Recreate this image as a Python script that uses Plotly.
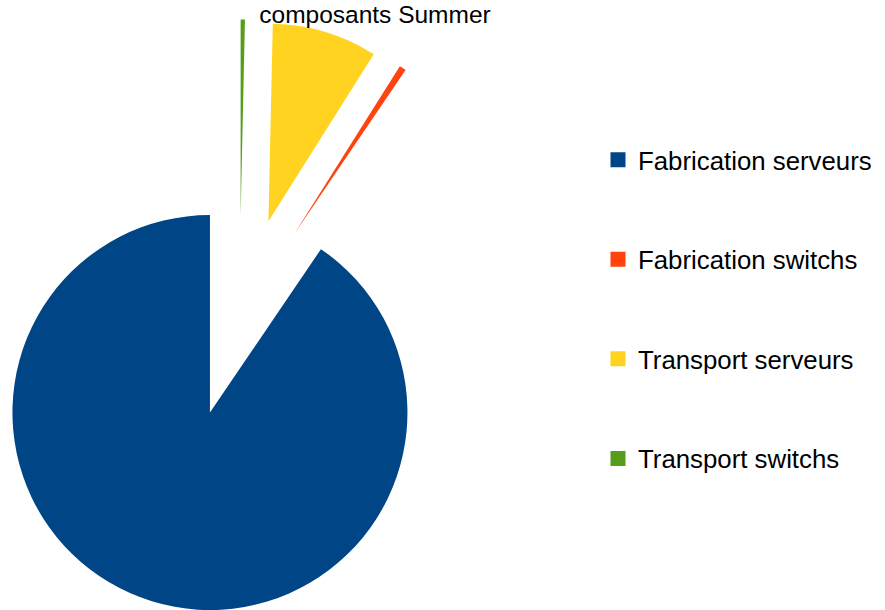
import math
import plotly.graph_objects as go

# ---- data ----
labels = ["Fabrication serveurs", "Fabrication switchs", "Transport serveurs", "Transport switchs"]
values = [90.5, 0.55, 8.6, 0.35]
colors = ["#004586", "#ff420e", "#ffd320", "#579d1c"]
title_text = "composants Summer"

# ---- layout geometry (pixels) ----
W, H = 885, 610
R = 197.5                 # pie radius
O = (239.5, 317.5)        # common centre before slices are pulled apart
PULL = 100.5              # distance each slice is pulled away (px)

# pie is drawn clockwise from 12 o'clock in reverse legend order
p_labels = labels[::-1]
p_values = values[::-1]
p_colors = colors[::-1]

fig = go.Figure()

total = sum(p_values)
cum = 0.0
for k, val in enumerate(p_values):
    start = cum
    cum += val
    psi = math.radians((start + cum) / 2 / total * 360.0)   # clockwise from 12 o'clock
    cx = O[0] + PULL * math.sin(psi)
    cy = O[1] - PULL * math.cos(psi)
    if cy + R > H:
        cy = H - R
    dom_x = [(cx - R) / W, (cx + R) / W]
    dom_y = [(H - (cy + R)) / H, (H - (cy - R)) / H]
    dom_x = [min(max(v, 0.0), 1.0) for v in dom_x]
    dom_y = [min(max(v, 0.0), 1.0) for v in dom_y]
    slice_colors = [c if i == k else "rgba(0,0,0,0)" for i, c in enumerate(p_colors)]
    fig.add_trace(go.Pie(
        labels=p_labels, values=p_values, sort=False, direction="clockwise",
        rotation=0, textinfo="none", showlegend=False,
        marker=dict(colors=slice_colors, line=dict(width=0)),
        domain=dict(x=dom_x, y=dom_y), hoverinfo="label+percent",
    ))

# legend entries
for lab, col in zip(labels, colors):
    fig.add_trace(go.Scatter(
        x=[None], y=[None], mode="markers", name=lab, legendgroup=lab,
        marker=dict(symbol="square", size=15, color=col, line=dict(width=0)),
    ))

fig.update_layout(
    width=W, height=H,
    margin=dict(l=0, r=0, t=0, b=0),
    paper_bgcolor="white", plot_bgcolor="white",
    font=dict(family="Liberation Sans, Arial, sans-serif", color="#000000", size=24),
    title=dict(text=title_text, x=375 / W, xanchor="center", y=1 - 6 / H, yanchor="top",
               font=dict(size=24.5, color="#000000")),
    xaxis=dict(visible=False), yaxis=dict(visible=False),
    legend=dict(x=598 / W, xanchor="left", y=1 - 136.5 / H, yanchor="top",
                font=dict(size=25.8, color="#000000"), tracegroupgap=63,
                bgcolor="rgba(0,0,0,0)"),
)

fig.write_html("out.html", config={"displayModeBar": False},
               post_script="document.body.style.margin='0px';")
